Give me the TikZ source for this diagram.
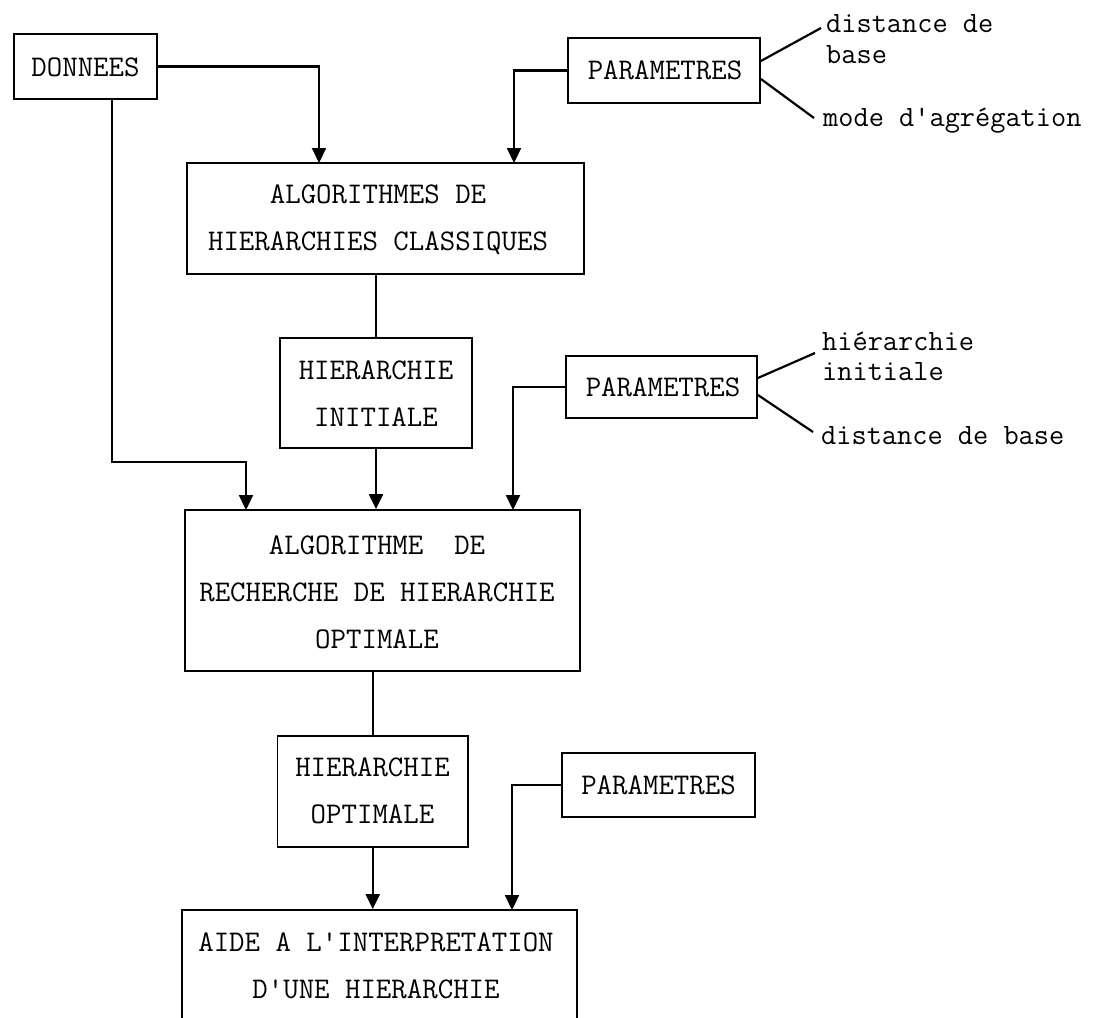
\documentclass[tikz,border=0pt]{standalone}
\usetikzlibrary{arrows.meta}
\begin{document}
\begin{tikzpicture}[x=1pt,y=-1pt,
  box/.style={draw, line width=1.8pt, inner sep=0pt},
  txt/.style={font=\ttfamily\fontsize{30}{47}\selectfont, align=center, inner sep=0pt},
  lbl/.style={font=\ttfamily\fontsize{29.5}{32}\selectfont, inner sep=0pt, anchor=base west},
  conn/.style={line width=2.2pt},
  arr/.style={conn, -{Triangle[length=15pt,width=14pt]}}
]
\useasboundingbox (0,0) rectangle (1097,1017);
\fill[white] (0,0) rectangle (1097,1017);

% boxes
\node[box, minimum width=143.4pt, minimum height=65pt] (donnees) at (85.3,66.5) {};
\node[box, minimum width=192pt, minimum height=65pt] (param1) at (664,70.5) {};
\node[box, minimum width=397pt, minimum height=111pt] (algo1) at (385.5,218.5) {};
\node[box, minimum width=192pt, minimum height=110pt] (hi) at (376,393) {};
\node[box, minimum width=191pt, minimum height=62pt] (param2) at (661.5,387) {};
\node[box, minimum width=395pt, minimum height=161pt] (algo2) at (382.5,590.5) {};
\node[box, minimum width=190.5pt, minimum height=111pt] (ho) at (372.75,791.5) {};
\node[box, minimum width=193pt, minimum height=64pt] (param3) at (658.5,785) {};
\node[box, minimum width=395pt, minimum height=150pt] (aide) at (379.5,985) {};

% texts
\node[txt] (donnees-t) at (85.5,67) {DONNEES};
\node[txt] (param1-t) at (665,70) {PARAMETRES};
\node[txt] (algo1-t) at (378,220) {ALGORITHMES DE\\HIERARCHIES CLASSIQUES};
\node[txt] (hi-t) at (376,393.5) {HIERARCHIE\\INITIALE};
\node[txt] (param2-t) at (663,387) {PARAMETRES};
\node[txt] (algo2-t) at (377,592.5) {ALGORITHME\ \ DE\\RECHERCHE DE HIERARCHIE\\OPTIMALE};
\node[txt] (ho-t) at (372.5,791) {HIERARCHIE\\OPTIMALE};
\node[txt] (param3-t) at (658.5,785) {PARAMETRES};
\node[txt] (aide-t) at (376,966) {AIDE A L\textquotesingle{}INTERPRETATION\\D\textquotesingle{}UNE HIERARCHIE};

% side labels
\node[lbl] (l1a) at (826,32) {distance de};
\node[lbl] (l1b) at (826,63) {base};
\node[lbl] (l1c) at (823,126) {mode d\textquotesingle{}agrégation};
\node[lbl] (l2a) at (822,350) {hiérarchie};
\node[lbl] (l2b) at (822,380) {initiale};
\node[lbl] (l2c) at (821,444) {distance de base};

% free ends / targets
\coordinate (t1a) at (821,28);
\coordinate (t1c) at (814,118);
\coordinate (t2a) at (815,353);
\coordinate (t2c) at (813,432);
\coordinate (a1in1) at (319,163);
\coordinate (a1in2) at (514,163);
\coordinate (dcorner) at (112,462);
\coordinate (a2in1) at (246,510);
\coordinate (a2in3) at (513,510);
\coordinate (a3in2) at (512,910);

% label lines
\draw[conn] ([yshift=9.5pt]param1.east) -- (t1a);
\draw[conn] ([yshift=-8.5pt]param1.east) -- (t1c);
\draw[conn] ([yshift=9pt]param2.east) -- (t2a);
\draw[conn] ([yshift=-8pt]param2.east) -- (t2c);

% connectors
\draw[arr] (donnees.east) -| (a1in1);
\draw[arr] (param1.west) -| (a1in2);
\draw[conn] (algo1.south -| hi.north) -- (hi.north);
\draw[arr] (donnees.south -| dcorner) -- (dcorner) -| (a2in1);
\draw[arr] (hi.south) -- (hi.south |- algo2.north);
\draw[arr] (param2.west) -| (a2in3);
\draw[conn] (algo2.south -| ho.north) -- (ho.north);
\draw[arr] (ho.south) -- (ho.south |- aide.north);
\draw[arr] (param3.west) -| (a3in2);
\end{tikzpicture}
\end{document}
